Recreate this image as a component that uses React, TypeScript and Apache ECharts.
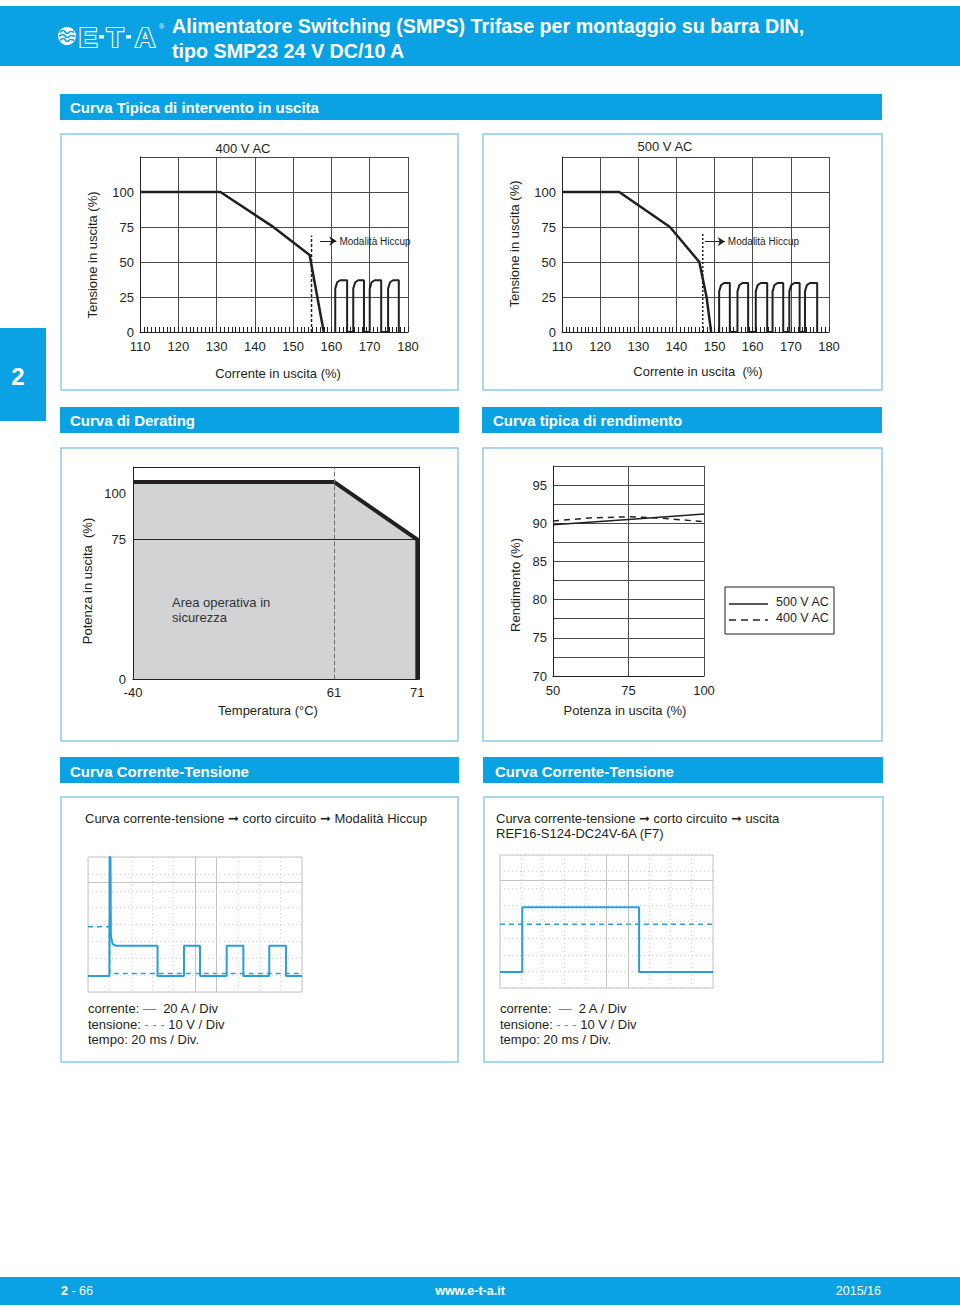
import React, { useEffect, useRef } from 'react';
import * as echarts from 'echarts';

const FONT = '"Liberation Sans", Arial, Helvetica, "DejaVu Sans", sans-serif';
const BLUE = '#0aa2e3';
const INK = '#231f20';
const GRIDC = '#4a4a4a';
const PANEL = '#8ccbe4';
const SCOPE = '#2a9ed8';
const SCOPE_GRID = '#cfcfcf';

// ---- Curva Tipica di intervento in uscita ----
const currentTicks = [110, 120, 130, 140, 150, 160, 170, 180];
const voltageTicks = [0, 25, 50, 75, 100];
const voltageFrame = 125;
const trip400 = [[110, 100], [131, 100], [144.3, 76], [154.3, 55], [158, 0]];
const hiccup400 = [
  [161, 0], [161, 31], [161.5, 35.5], [162.3, 37], [164.1, 37], [164.1, 0],
  [165.7, 0], [165.7, 31], [166.2, 35.5], [167, 37], [168.5, 37], [168.5, 0],
  [170, 0], [170, 31], [170.5, 35.5], [171.3, 37], [173, 37], [173, 0],
  [174.8, 0], [174.8, 31], [175.3, 35.5], [176.1, 37], [177.6, 37], [177.6, 0],
];
const hiccupLimit400 = [[154.8, 0], [154.8, 69]];
const hiccupArrow400 = [[157, 65], [161.3, 65]];

const trip500 = [[110, 100], [125, 100], [138.3, 75], [146, 50], [147.9, 25], [149.1, 0]];
const hiccup500 = [
  [151.2, 0], [151.2, 29], [151.7, 33.5], [152.5, 35], [154, 35], [154, 0],
  [156, 0], [156, 29], [156.5, 33.5], [157.3, 35], [158.8, 35], [158.8, 0],
  [160.8, 0], [160.8, 29], [161.3, 33.5], [162.1, 35], [163.8, 35], [163.8, 0],
  [165.2, 0], [165.2, 29], [165.7, 33.5], [166.5, 35], [168, 35], [168, 0],
  [169.6, 0], [169.6, 29], [170.1, 33.5], [170.9, 35], [172.3, 35], [172.3, 0],
  [173.7, 0], [173.7, 29], [174.2, 33.5], [175, 35], [176.9, 35], [176.9, 0],
];
const hiccupLimit500 = [[146.9, 0], [146.9, 71]];
const hiccupArrow500 = [[147.5, 64.6], [152.7, 64.6]];

// ---- Curva di Derating ----
const deratingTemps = [-40, 61, 71];
const deratingPowerTicks = [0, 75, 100];
const deratingFrame = 114;
const deratingFlat = [[-40, 106], [61, 106]];
const deratingSlope = [[61, 106], [71, 75], [71, 0]];

// ---- Curva tipica di rendimento ----
const powerTicks = [50, 75, 100];
const efficiencyTicks = [70, 75, 80, 85, 90, 95];
const efficiencyFrame = 97.5;
const efficiencyNames = ['500 V AC', '400 V AC'];
const eff500 = [[50, 89.8], [75, 90.5], [100, 91.2]];
const eff400 = [[50, 90.3], [62, 90.7], [75, 90.85], [85, 90.7], [100, 90.2]];

// ---- Oscillogrammi (div) ----
const scopeTime = [0, 200];
const scopeDivs = [0, 8];
const scopeCurrentL = [
  [0, 0.95], [20, 0.95], [20.2, 8], [21, 8], [21.4, 3.3], [23, 2.85], [26, 2.74], [65, 2.74], [65, 0.95],
  [89.7, 0.95], [89.7, 2.74], [104.7, 2.74], [104.7, 0.95],
  [129.6, 0.95], [129.6, 2.74], [145.2, 2.74], [145.2, 0.95],
  [169.4, 0.95], [169.4, 2.74], [185, 2.74], [185, 0.95], [200, 0.95],
];
const scopeVoltageL = [[0, 3.86], [20, 3.86], [20.3, 1.1], [200, 1.1]];
const scopeCurrentR = [[0, 0.96], [20.9, 0.96], [20.9, 4.85], [130.6, 4.85], [130.6, 0.96], [200, 0.96]];
const scopeVoltageR = [[0, 3.83], [200, 3.83]];
const scopeRefLines = [{ xAxis: 100 }, { xAxis: 120 }, { yAxis: 6.5 }];

const axisText = { color: INK, fontSize: 13, fontFamily: FONT };

function tripX(gi: number) {
  return {
    gridIndex: gi, type: 'value', min: currentTicks[0], max: currentTicks[currentTicks.length - 1], interval: 10,
    axisLine: { show: true, onZero: false, lineStyle: { color: INK, width: 1 } },
    axisTick: { show: true, inside: true, length: 5, lineStyle: { color: INK } },
    minorTick: { show: true, splitNumber: 10, length: 5, lineStyle: { color: INK } },
    splitLine: { show: true, lineStyle: { color: GRIDC, width: 1 } },
    axisLabel: { ...axisText, margin: 8 },
  };
}
function tripY(gi: number) {
  return {
    gridIndex: gi, type: 'value', min: 0, max: voltageFrame, interval: 25,
    axisLine: { show: true, onZero: false, lineStyle: { color: INK } },
    axisTick: { show: false },
    splitLine: { show: true, lineStyle: { color: GRIDC, width: 1 } },
    axisLabel: { ...axisText, margin: 6, formatter: (v: number) => (voltageTicks.includes(v) ? String(v) : '') },
  };
}
function scopeX(gi: number) {
  return {
    gridIndex: gi, type: 'value', min: scopeTime[0], max: scopeTime[1], interval: 20,
    axisLine: { show: false, onZero: false }, axisTick: { show: false }, axisLabel: { show: false },
    splitLine: { show: true, lineStyle: { color: SCOPE_GRID, type: [1, 3], width: 1 } },
  };
}
function scopeY(gi: number) {
  return {
    gridIndex: gi, type: 'value', min: scopeDivs[0], max: scopeDivs[1], interval: 1,
    axisLine: { show: false, onZero: false }, axisTick: { show: false }, axisLabel: { show: false },
    splitLine: { show: true, lineStyle: { color: SCOPE_GRID, type: [1, 3], width: 1 } },
  };
}

function txt(x: number, y: number, text: string, o: any = {}) {
  const { rotation, ...style } = o;
  return {
    type: 'text', x, y, rotation: rotation || 0, z: 20,
    style: { text, fill: INK, fontSize: 13, fontFamily: FONT, align: 'left', verticalAlign: 'middle', ...style },
  };
}
function box(x: number, y: number, w: number, h: number, style: any) {
  return { type: 'rect', shape: { x, y, width: w, height: h }, style, z: 1 };
}
function seg(x1: number, y1: number, x2: number, y2: number, style: any) {
  return { type: 'line', shape: { x1, y1, x2, y2 }, style, z: 20 };
}

const rich13 = { c: { fill: SCOPE, fontSize: 13, fontFamily: FONT } };

const graphics: any[] = [
  // header
  box(0, 6, 960, 60, { fill: BLUE }),
  { type: 'circle', shape: { cx: 67, cy: 36, r: 9 }, style: { fill: '#fff' }, z: 5 },
  { type: 'polyline', shape: { points: [[60, 32.5], [63.5, 30.5], [67, 33.5], [70.5, 31.5], [74, 32.5]], smooth: 0.5 }, style: { stroke: BLUE, lineWidth: 1.6, fill: 'none' }, z: 6 },
  { type: 'polyline', shape: { points: [[59, 36.5], [63, 34.5], [67, 37.5], [71, 35.5], [75, 36.5]], smooth: 0.5 }, style: { stroke: BLUE, lineWidth: 1.6, fill: 'none' }, z: 6 },
  { type: 'polyline', shape: { points: [[60, 40.5], [63.5, 38.5], [67, 41.5], [70.5, 39.5], [74, 40.5]], smooth: 0.5 }, style: { stroke: BLUE, lineWidth: 1.6, fill: 'none' }, z: 6 },
  txt(88, 37, 'E', { fontSize: 28, fontWeight: 'bold', align: 'center', fill: BLUE, stroke: '#fff', lineWidth: 2.2 }),
  box(99, 35, 5, 3.5, { fill: '#fff' }),
  txt(115, 37, 'T', { fontSize: 28, fontWeight: 'bold', align: 'center', fill: BLUE, stroke: '#fff', lineWidth: 2.2 }),
  box(126, 35, 5, 3.5, { fill: '#fff' }),
  txt(145, 37, 'A', { fontSize: 28, fontWeight: 'bold', align: 'center', fill: BLUE, stroke: '#fff', lineWidth: 2.2 }),
  txt(159, 26, '®', { fontSize: 7, fill: '#fff' }),
  txt(172, 26, 'Alimentatore Switching (SMPS) Trifase per montaggio su barra DIN,', { fontSize: 19.7, fontWeight: 'bold', fill: '#fff' }),
  txt(172, 51, 'tipo SMP23 24 V DC/10 A', { fontSize: 19.7, fontWeight: 'bold', fill: '#fff' }),

  // section bars
  box(60, 94, 822, 26, { fill: BLUE }),
  txt(70, 107, 'Curva Tipica di intervento in uscita', { fontSize: 15, fontWeight: 'bold', fill: '#fff' }),
  box(60, 407, 399, 26, { fill: BLUE }),
  txt(70, 420, 'Curva di Derating', { fontSize: 15, fontWeight: 'bold', fill: '#fff' }),
  box(482, 407, 400, 26, { fill: BLUE }),
  txt(493, 420, 'Curva tipica di rendimento', { fontSize: 15, fontWeight: 'bold', fill: '#fff' }),
  box(60, 757, 399, 26, { fill: BLUE }),
  txt(70, 771, 'Curva Corrente-Tensione', { fontSize: 15, fontWeight: 'bold', fill: '#fff' }),
  box(483, 757, 400, 26, { fill: BLUE }),
  txt(495, 771, 'Curva Corrente-Tensione', { fontSize: 15, fontWeight: 'bold', fill: '#fff' }),

  // side tab
  box(0, 328, 46, 93, { fill: BLUE }),
  txt(18, 376, '2', { fontSize: 24, fontWeight: 'bold', fill: '#fff', align: 'center' }),

  // panels
  box(61, 134, 397, 256, { fill: 'none', stroke: PANEL, lineWidth: 1.5 }),
  box(483, 134, 399, 256, { fill: 'none', stroke: PANEL, lineWidth: 1.5 }),
  box(61, 448, 397, 293, { fill: 'none', stroke: PANEL, lineWidth: 1.5 }),
  box(483, 448, 399, 293, { fill: 'none', stroke: PANEL, lineWidth: 1.5 }),
  box(61, 797, 397, 265, { fill: 'none', stroke: PANEL, lineWidth: 1.5 }),
  box(484, 797, 399, 265, { fill: 'none', stroke: PANEL, lineWidth: 1.5 }),

  // trip curve texts
  txt(243, 148, '400 V AC', { align: 'center' }),
  txt(665, 146, '500 V AC', { align: 'center' }),
  txt(92, 255, 'Tensione in uscita (%)', { align: 'center', rotation: Math.PI / 2 }),
  txt(514, 244, 'Tensione in uscita (%)', { align: 'center', rotation: Math.PI / 2 }),
  txt(278, 373, 'Corrente in uscita (%)', { align: 'center' }),
  txt(698, 371, 'Corrente in uscita  (%)', { align: 'center' }),

  // derating texts
  txt(87, 581, 'Potenza in uscita  (%)', { align: 'center', rotation: Math.PI / 2 }),
  txt(268, 710, 'Temperatura (°C)', { align: 'center' }),
  txt(172, 602, 'Area operativa in', { fill: '#333' }),
  txt(172, 617, 'sicurezza', { fill: '#333' }),

  // efficiency texts + legend
  txt(515, 585, 'Rendimento (%)', { align: 'center', rotation: Math.PI / 2 }),
  txt(625, 710, 'Potenza in uscita (%)', { align: 'center' }),
  { type: 'rect', shape: { x: 725, y: 587, width: 109, height: 47 }, style: { fill: '#fff', stroke: INK, lineWidth: 1 }, z: 19 },
  seg(729, 604, 768, 604, { stroke: INK, lineWidth: 1.5 }),
  seg(729, 620, 768, 620, { stroke: INK, lineWidth: 1.5, lineDash: [7, 5] }),
  txt(776, 602, efficiencyNames[0], { fontSize: 12.5 }),
  txt(776, 618, efficiencyNames[1], { fontSize: 12.5 }),

  // scope captions
  txt(85, 818, 'Curva corrente-tensione ➞ corto circuito ➞ Modalità Hiccup'),
  txt(496, 818, 'Curva corrente-tensione ➞ corto circuito ➞ uscita'),
  txt(496, 833, 'REF16-S124-DC24V-6A (F7)'),
  txt(88, 1008, 'corrente: {c|—}  20 A / Div', { rich: rich13 }),
  txt(88, 1024, 'tensione: {c|- - -} 10 V / Div', { rich: rich13 }),
  txt(88, 1039, 'tempo: 20 ms / Div.'),
  txt(500, 1008, 'corrente:  {c|—}  2 A / Div', { rich: rich13 }),
  txt(500, 1024, 'tensione: {c|- - -} 10 V / Div', { rich: rich13 }),
  txt(500, 1039, 'tempo: 20 ms / Div.'),

  // footer
  box(0, 1277, 960, 28, { fill: BLUE }),
  txt(61, 1291, '{b|2} - 66', { fill: '#fff', fontSize: 12.5, rich: { b: { fontWeight: 'bold', fill: '#fff', fontSize: 12.5, fontFamily: FONT } } }),
  txt(470, 1291, 'www.e-t-a.it', { fill: '#fff', fontSize: 12.5, fontWeight: 'bold', align: 'center' }),
  txt(881, 1291, '2015/16', { fill: '#fff', fontSize: 12.5, align: 'right' }),
];

const blackLine = (w: number) => ({ color: INK, width: w });

const option: any = {
  animation: false,
  backgroundColor: '#ffffff',
  textStyle: { fontFamily: FONT },
  grid: [
    { left: 140, top: 157, width: 268, height: 175 },
    { left: 562, top: 157, width: 267, height: 175 },
    { left: 133, top: 467, width: 201, height: 212 },
    { left: 334, top: 467, width: 85, height: 212 },
    { left: 553, top: 466, width: 151, height: 210 },
    { left: 88, top: 857, width: 214, height: 135, show: true, borderColor: '#c4c4c4', borderWidth: 1 },
    { left: 500, top: 855, width: 213, height: 133, show: true, borderColor: '#c4c4c4', borderWidth: 1 },
  ],
  xAxis: [
    tripX(0),
    tripX(1),
    {
      gridIndex: 2, type: 'value', min: deratingTemps[0], max: deratingTemps[1],
      axisLine: { show: true, onZero: false, lineStyle: { color: INK } }, axisTick: { show: false },
      splitLine: { show: false },
      axisLabel: { ...axisText, margin: 7, formatter: (v: number) => (v === deratingTemps[0] ? String(v) : '') },
    },
    {
      gridIndex: 3, type: 'value', min: deratingTemps[1], max: 71.2, interval: 10,
      axisLine: { show: true, onZero: false, lineStyle: { color: INK } }, axisTick: { show: false },
      splitLine: { show: false },
      axisLabel: { ...axisText, margin: 7, formatter: (v: number) => (deratingTemps.slice(1).includes(v) ? String(v) : '') },
    },
    {
      gridIndex: 4, type: 'value', min: powerTicks[0], max: powerTicks[2], interval: 25,
      axisLine: { show: true, onZero: false, lineStyle: { color: INK } }, axisTick: { show: false },
      splitLine: { show: true, lineStyle: { color: GRIDC } },
      axisLabel: { ...axisText, margin: 8 },
    },
    scopeX(5),
    scopeX(6),
  ],
  yAxis: [
    tripY(0),
    tripY(1),
    {
      gridIndex: 2, type: 'value', min: 0, max: deratingFrame, interval: 75, z: 10,
      axisLine: { show: true, onZero: false, lineStyle: { color: INK } }, axisTick: { show: false },
      splitLine: { show: true, lineStyle: { color: INK, width: 1 } },
      axisLabel: { ...axisText, margin: 7, customValues: deratingPowerTicks },
    },
    {
      gridIndex: 3, type: 'value', min: 0, max: deratingFrame, interval: 75, z: 10,
      axisLine: { show: true, onZero: false, lineStyle: { color: '#6d6e71', type: [4, 3], width: 1 } }, axisTick: { show: false },
      splitLine: { show: true, lineStyle: { color: INK, width: 1 } },
      axisLabel: { show: false },
    },
    {
      gridIndex: 3, type: 'value', min: 0, max: deratingFrame, position: 'right', z: 10,
      axisLine: { show: true, onZero: false, lineStyle: { color: INK } }, axisTick: { show: false },
      splitLine: { show: false }, axisLabel: { show: false },
    },
    {
      gridIndex: 4, type: 'value', min: efficiencyTicks[0], max: efficiencyFrame, interval: 2.5,
      axisLine: { show: true, onZero: false, lineStyle: { color: INK } }, axisTick: { show: false },
      splitLine: { show: true, lineStyle: { color: GRIDC } },
      axisLabel: { ...axisText, margin: 6, formatter: (v: number) => (efficiencyTicks.includes(v) ? String(v) : '') },
    },
    scopeY(5),
    scopeY(6),
  ],
  series: [
    // 400 V AC
    { type: 'line', xAxisIndex: 0, yAxisIndex: 0, data: trip400, symbol: 'none', lineStyle: blackLine(2.5), z: 4 },
    { type: 'line', xAxisIndex: 0, yAxisIndex: 0, data: hiccup400, symbol: 'none', lineStyle: blackLine(2), z: 4 },
    {
      type: 'line', xAxisIndex: 0, yAxisIndex: 0, data: hiccupLimit400, symbol: 'none',
      lineStyle: { color: INK, width: 1.5, type: [3, 2] }, z: 4,
      markLine: {
        silent: true, symbol: ['none', 'arrow'], symbolSize: 7, animation: false,
        lineStyle: { color: INK, width: 1, type: 'solid' },
        label: { show: true, position: 'end', formatter: 'Modalità Hiccup', fontSize: 10, color: INK, fontFamily: FONT, distance: 3 },
        data: [[{ coord: hiccupArrow400[0] }, { coord: hiccupArrow400[1] }]],
      },
    },
    // 500 V AC
    { type: 'line', xAxisIndex: 1, yAxisIndex: 1, data: trip500, symbol: 'none', lineStyle: blackLine(2.5), z: 4 },
    { type: 'line', xAxisIndex: 1, yAxisIndex: 1, data: hiccup500, symbol: 'none', lineStyle: blackLine(2), z: 4 },
    {
      type: 'line', xAxisIndex: 1, yAxisIndex: 1, data: hiccupLimit500, symbol: 'none',
      lineStyle: { color: INK, width: 1.5, type: [2, 2] }, z: 4,
      markLine: {
        silent: true, symbol: ['none', 'arrow'], symbolSize: 7, animation: false,
        lineStyle: { color: INK, width: 1, type: 'solid' },
        label: { show: true, position: 'end', formatter: 'Modalità Hiccup', fontSize: 10, color: INK, fontFamily: FONT, distance: 3 },
        data: [[{ coord: hiccupArrow500[0] }, { coord: hiccupArrow500[1] }]],
      },
    },
    // derating
    {
      type: 'line', xAxisIndex: 2, yAxisIndex: 2, data: deratingFlat, symbol: 'none',
      lineStyle: blackLine(4), areaStyle: { color: '#d1d3d4', opacity: 1 }, z: 3,
    },
    {
      type: 'line', xAxisIndex: 3, yAxisIndex: 3, data: deratingSlope, symbol: 'none',
      lineStyle: { color: INK, width: 4, join: 'miter' }, areaStyle: { color: '#d1d3d4', opacity: 1 }, z: 3,
    },
    // efficiency
    { name: efficiencyNames[0], type: 'line', xAxisIndex: 4, yAxisIndex: 5, data: eff500, symbol: 'none', lineStyle: { color: INK, width: 1.5 }, z: 4 },
    { name: efficiencyNames[1], type: 'line', xAxisIndex: 4, yAxisIndex: 5, data: eff400, symbol: 'none', lineStyle: { color: INK, width: 1.5, type: [6, 5] }, z: 4 },
    // scope left
    {
      type: 'line', xAxisIndex: 5, yAxisIndex: 6, data: scopeVoltageL, symbol: 'none',
      lineStyle: { color: SCOPE, width: 1.5, type: [5, 4] }, z: 4,
      markLine: { silent: true, symbol: 'none', label: { show: false }, lineStyle: { color: '#c4c4c4', width: 1, type: 'solid' }, data: scopeRefLines },
    },
    { type: 'line', xAxisIndex: 5, yAxisIndex: 6, data: scopeCurrentL, symbol: 'none', lineStyle: { color: SCOPE, width: 2 }, z: 5 },
    // scope right
    {
      type: 'line', xAxisIndex: 6, yAxisIndex: 7, data: scopeVoltageR, symbol: 'none',
      lineStyle: { color: SCOPE, width: 1.5, type: [5, 4] }, z: 4,
      markLine: { silent: true, symbol: 'none', label: { show: false }, lineStyle: { color: '#c4c4c4', width: 1, type: 'solid' }, data: scopeRefLines },
    },
    { type: 'line', xAxisIndex: 6, yAxisIndex: 7, data: scopeCurrentR, symbol: 'none', lineStyle: { color: SCOPE, width: 2 }, z: 5 },
  ],
  graphic: graphics,
};

export default function App() {
  const ref = useRef<HTMLDivElement>(null);
  useEffect(() => {
    document.body.style.margin = '0';
    const chart = echarts.init(ref.current!, null, { renderer: 'svg' });
    chart.setOption(option);
    return () => chart.dispose();
  }, []);
  return <div ref={ref} style={{ position: 'absolute', left: 0, top: 0, width: 960, height: 1308, background: '#fff' }} />;
}
